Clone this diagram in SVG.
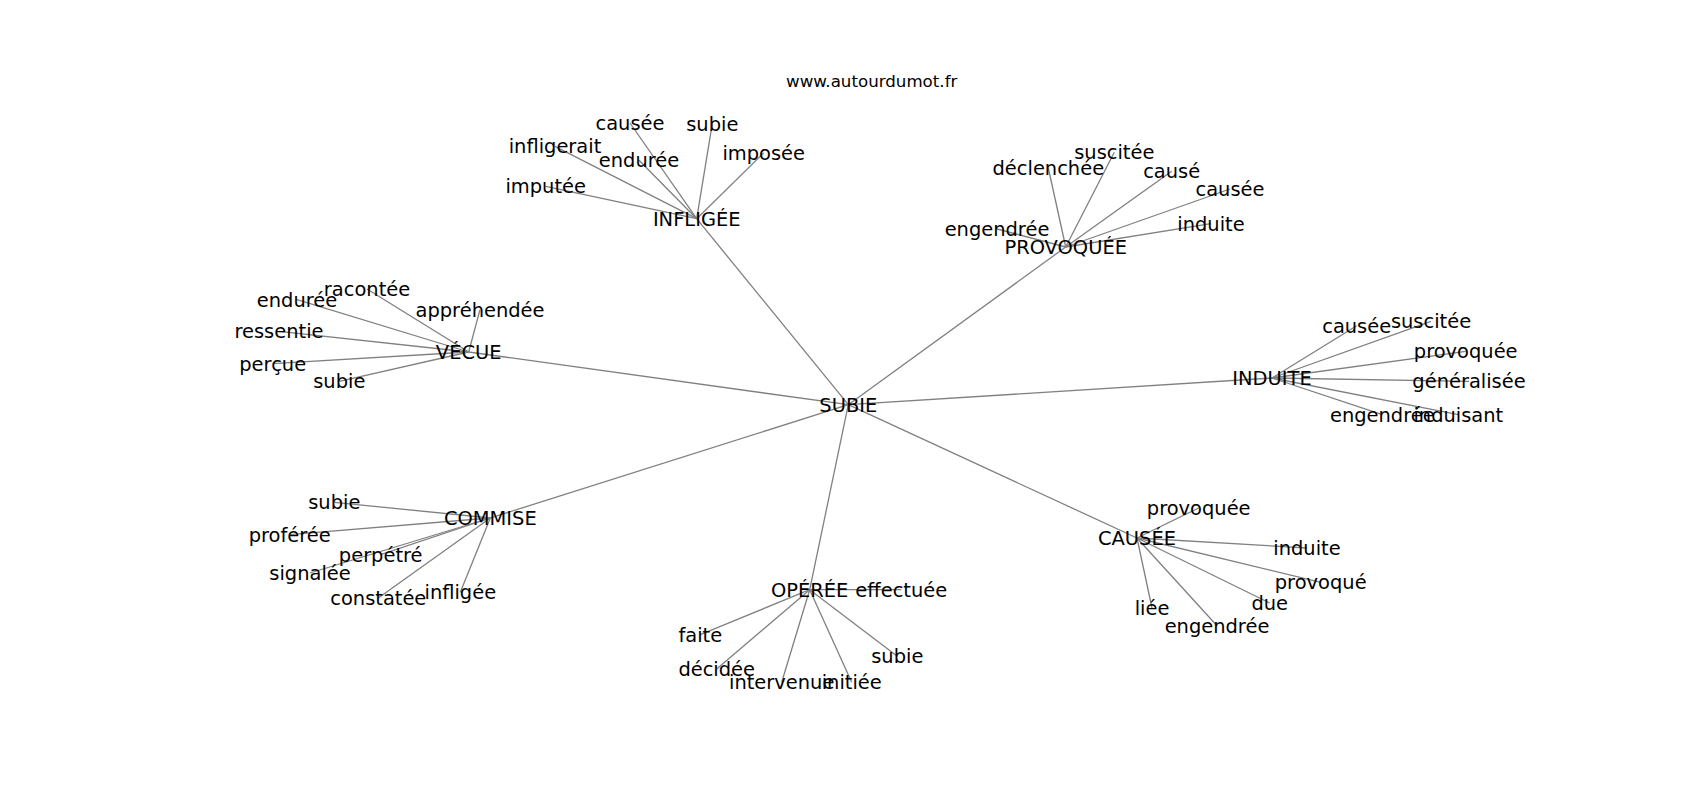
<svg xmlns="http://www.w3.org/2000/svg" width="1700" height="800" viewBox="0 0 1700 800">
<style>
.e{stroke:#808080;stroke-width:1.3;fill:none}
.n text{font-family:"DejaVu Sans","Liberation Sans",sans-serif;font-size:19.44px;fill:#000;text-anchor:middle}
.t{font-family:"DejaVu Sans","Liberation Sans",sans-serif;font-size:16.67px;fill:#000;text-anchor:middle}
</style>
<rect width="1700" height="800" fill="#fff"/>
<text class="t" x="871.7" y="86.7">www.autourdumot.fr</text>
<g id="edges">
<line class="e" x1="848.3" y1="404.7" x2="696.7" y2="218.7"/>
<line class="e" x1="848.3" y1="404.7" x2="1065.7" y2="247"/>
<line class="e" x1="848.3" y1="404.7" x2="468.7" y2="352"/>
<line class="e" x1="848.3" y1="404.7" x2="1272" y2="378"/>
<line class="e" x1="848.3" y1="404.7" x2="490.3" y2="518"/>
<line class="e" x1="848.3" y1="404.7" x2="809.7" y2="589.7"/>
<line class="e" x1="848.3" y1="404.7" x2="1137" y2="538"/>
<line class="e" x1="696.7" y1="218.7" x2="630" y2="123"/>
<line class="e" x1="696.7" y1="218.7" x2="712.3" y2="123.7"/>
<line class="e" x1="696.7" y1="218.7" x2="555" y2="146.3"/>
<line class="e" x1="696.7" y1="218.7" x2="639" y2="160.3"/>
<line class="e" x1="696.7" y1="218.7" x2="763.7" y2="153"/>
<line class="e" x1="696.7" y1="218.7" x2="545.7" y2="186.3"/>
<line class="e" x1="1065.7" y1="247" x2="1114.3" y2="152.3"/>
<line class="e" x1="1065.7" y1="247" x2="1048.3" y2="168"/>
<line class="e" x1="1065.7" y1="247" x2="1171.7" y2="171.3"/>
<line class="e" x1="1065.7" y1="247" x2="1230" y2="189"/>
<line class="e" x1="1065.7" y1="247" x2="1211" y2="223.7"/>
<line class="e" x1="1065.7" y1="247" x2="997" y2="229"/>
<line class="e" x1="468.7" y1="352" x2="367" y2="289"/>
<line class="e" x1="468.7" y1="352" x2="297" y2="299.7"/>
<line class="e" x1="468.7" y1="352" x2="480" y2="309.7"/>
<line class="e" x1="468.7" y1="352" x2="279" y2="331.3"/>
<line class="e" x1="468.7" y1="352" x2="272.7" y2="363.7"/>
<line class="e" x1="468.7" y1="352" x2="339.3" y2="381.3"/>
<line class="e" x1="1272" y1="378" x2="1356.7" y2="325.7"/>
<line class="e" x1="1272" y1="378" x2="1431" y2="321.3"/>
<line class="e" x1="1272" y1="378" x2="1465.7" y2="351.3"/>
<line class="e" x1="1272" y1="378" x2="1469" y2="381.3"/>
<line class="e" x1="1272" y1="378" x2="1382.3" y2="414.7"/>
<line class="e" x1="1272" y1="378" x2="1458.3" y2="414.7"/>
<line class="e" x1="490.3" y1="518" x2="334.3" y2="502.3"/>
<line class="e" x1="490.3" y1="518" x2="289.7" y2="534.7"/>
<line class="e" x1="490.3" y1="518" x2="380.7" y2="554.7"/>
<line class="e" x1="490.3" y1="518" x2="310" y2="573"/>
<line class="e" x1="490.3" y1="518" x2="378.3" y2="598"/>
<line class="e" x1="490.3" y1="518" x2="460.3" y2="592.3"/>
<line class="e" x1="809.7" y1="589.7" x2="901.3" y2="589.7"/>
<line class="e" x1="809.7" y1="589.7" x2="700.3" y2="634.7"/>
<line class="e" x1="809.7" y1="589.7" x2="716.7" y2="669"/>
<line class="e" x1="809.7" y1="589.7" x2="781.7" y2="682.3"/>
<line class="e" x1="809.7" y1="589.7" x2="851.7" y2="682.3"/>
<line class="e" x1="809.7" y1="589.7" x2="897.3" y2="656.3"/>
<line class="e" x1="1137" y1="538" x2="1198.7" y2="508"/>
<line class="e" x1="1137" y1="538" x2="1307" y2="548"/>
<line class="e" x1="1137" y1="538" x2="1320.7" y2="582.3"/>
<line class="e" x1="1137" y1="538" x2="1269.7" y2="603"/>
<line class="e" x1="1137" y1="538" x2="1152" y2="608"/>
<line class="e" x1="1137" y1="538" x2="1217" y2="625.7"/>
</g>
<g class="n">
<g id="n-subie"><text x="848.3" y="411.7">SUBIE</text></g>
<g id="n-infligee"><text x="696.7" y="225.7">INFLIGÉE</text></g>
<g id="n-infligee-causee"><text x="630" y="130">causée</text></g>
<g id="n-infligee-subie"><text x="712.3" y="130.7">subie</text></g>
<g id="n-infligee-infligerait"><text x="555" y="153.3">infligerait</text></g>
<g id="n-infligee-enduree"><text x="639" y="167.3">endurée</text></g>
<g id="n-infligee-imposee"><text x="763.7" y="160">imposée</text></g>
<g id="n-infligee-imputee"><text x="545.7" y="193.3">imputée</text></g>
<g id="n-provoquee"><text x="1065.7" y="254">PROVOQUÉE</text></g>
<g id="n-provoquee-suscitee"><text x="1114.3" y="159.3">suscitée</text></g>
<g id="n-provoquee-declenchee"><text x="1048.3" y="175">déclenchée</text></g>
<g id="n-provoquee-cause"><text x="1171.7" y="178.3">causé</text></g>
<g id="n-provoquee-causee"><text x="1230" y="196">causée</text></g>
<g id="n-provoquee-induite"><text x="1211" y="230.7">induite</text></g>
<g id="n-provoquee-engendree"><text x="997" y="236">engendrée</text></g>
<g id="n-vecue"><text x="468.7" y="359">VÉCUE</text></g>
<g id="n-vecue-racontee"><text x="367" y="296">racontée</text></g>
<g id="n-vecue-enduree"><text x="297" y="306.7">endurée</text></g>
<g id="n-vecue-apprehendee"><text x="480" y="316.7">appréhendée</text></g>
<g id="n-vecue-ressentie"><text x="279" y="338.3">ressentie</text></g>
<g id="n-vecue-percue"><text x="272.7" y="370.7">perçue</text></g>
<g id="n-vecue-subie"><text x="339.3" y="388.3">subie</text></g>
<g id="n-induite"><text x="1272" y="385">INDUITE</text></g>
<g id="n-induite-causee"><text x="1356.7" y="332.7">causée</text></g>
<g id="n-induite-suscitee"><text x="1431" y="328.3">suscitée</text></g>
<g id="n-induite-provoquee"><text x="1465.7" y="358.3">provoquée</text></g>
<g id="n-induite-generalisee"><text x="1469" y="388.3">généralisée</text></g>
<g id="n-induite-engendree"><text x="1382.3" y="421.7">engendrée</text></g>
<g id="n-induite-induisant"><text x="1458.3" y="421.7">induisant</text></g>
<g id="n-commise"><text x="490.3" y="525">COMMISE</text></g>
<g id="n-commise-subie"><text x="334.3" y="509.3">subie</text></g>
<g id="n-commise-proferee"><text x="289.7" y="541.7">proférée</text></g>
<g id="n-commise-perpetre"><text x="380.7" y="561.7">perpétré</text></g>
<g id="n-commise-signalee"><text x="310" y="580">signalée</text></g>
<g id="n-commise-constatee"><text x="378.3" y="605">constatée</text></g>
<g id="n-commise-infligee"><text x="460.3" y="599.3">infligée</text></g>
<g id="n-operee"><text x="809.7" y="596.7">OPÉRÉE</text></g>
<g id="n-operee-effectuee"><text x="901.3" y="596.7">effectuée</text></g>
<g id="n-operee-faite"><text x="700.3" y="641.7">faite</text></g>
<g id="n-operee-decidee"><text x="716.7" y="676">décidée</text></g>
<g id="n-operee-intervenue"><text x="781.7" y="689.3">intervenue</text></g>
<g id="n-operee-initiee"><text x="851.7" y="689.3">initiée</text></g>
<g id="n-operee-subie"><text x="897.3" y="663.3">subie</text></g>
<g id="n-causee"><text x="1137" y="545">CAUSÉE</text></g>
<g id="n-causee-provoquee"><text x="1198.7" y="515">provoquée</text></g>
<g id="n-causee-induite"><text x="1307" y="555">induite</text></g>
<g id="n-causee-provoque"><text x="1320.7" y="589.3">provoqué</text></g>
<g id="n-causee-due"><text x="1269.7" y="610">due</text></g>
<g id="n-causee-liee"><text x="1152" y="615">liée</text></g>
<g id="n-causee-engendree"><text x="1217" y="632.7">engendrée</text></g>
</g>
</svg>
